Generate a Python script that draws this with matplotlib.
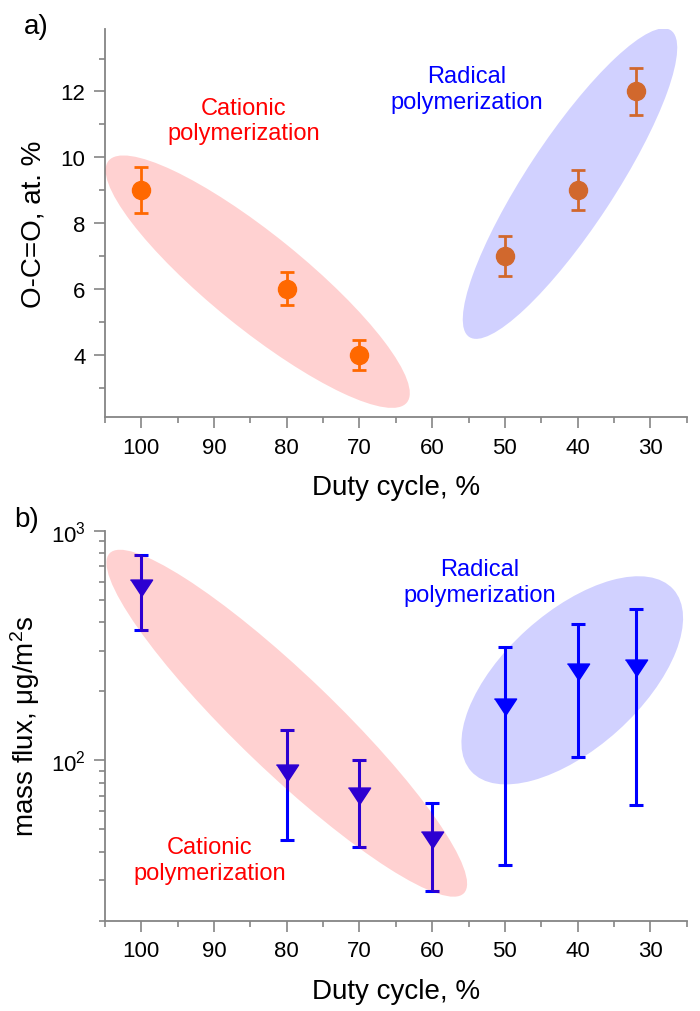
import matplotlib
matplotlib.use("Agg")
import matplotlib.pyplot as plt
from matplotlib.patches import Ellipse
from matplotlib.ticker import MultipleLocator
import matplotlib.transforms as mtransforms

plt.rcParams['font.family'] = ['Liberation Sans', 'DejaVu Sans']
plt.rcParams['mathtext.fontset'] = 'custom'
plt.rcParams['mathtext.rm'] = 'Liberation Sans'
plt.rcParams['mathtext.it'] = 'Liberation Sans:italic'
plt.rcParams['mathtext.default'] = 'regular'

# panel a) O-C=O content
duty_a = [100, 80, 70, 50, 40, 32]
occ = [9, 6, 4, 7, 9, 12]
occ_err = [0.7, 0.5, 0.45, 0.6, 0.6, 0.7]

# panel b) mass flux
duty_b = [100, 80, 70, 60, 50, 40, 32]
flux = [565, 88, 70, 45, 170, 243, 253]
flux_lo = [370, 45, 42, 27, 35, 103, 64]
flux_hi = [785, 136, 100, 65, 313, 392, 455]

grey = '#858585'
orange = '#FF8000'
blue = '#0000FF'
# flat down-pointing triangle (wider than tall)
tri_down = [(-1, 0.76), (1, 0.76), (0, -0.76)]


def style_axis(ax):
    for s in ['top', 'right']:
        ax.spines[s].set_visible(False)
    for s in ['left', 'bottom']:
        ax.spines[s].set_color(grey)
        ax.spines[s].set_linewidth(1.3)
    ax.tick_params(which='both', direction='out', color=grey, width=1.2,
                   labelsize=16, labelcolor='black')
    ax.tick_params(which='major', length=8, pad=6)
    ax.tick_params(which='minor', length=4)
    ax.set_xlim(105, 25)
    ax.set_xticks([100, 90, 80, 70, 60, 50, 40, 30])
    ax.xaxis.set_minor_locator(MultipleLocator(5))
    ax.set_xlabel('Duty cycle, %', fontsize=20, labelpad=12)


def blob(ax, xc, yc, w, h, ang, color):
    # ellipse sized in inches, centred on a data point
    tr = fig.dpi_scale_trans + mtransforms.ScaledTranslation(xc, yc, ax.transData)
    e = Ellipse((0, 0), w, h, angle=ang, transform=tr, facecolor=color,
                edgecolor='none', alpha=0.18, zorder=5)
    ax.add_patch(e)


fig = plt.figure(figsize=(7, 10.12), dpi=100)

ax1 = fig.add_axes([0.15, 0.5867, 0.831, 0.3837])
ax1.errorbar(duty_a, occ, yerr=occ_err, fmt='o', color=orange, ms=13,
             elinewidth=2, capsize=5, capthick=2, zorder=3)
style_axis(ax1)
ax1.set_ylim(2.1, 13.9)
ax1.set_yticks([4, 6, 8, 10, 12])
ax1.yaxis.set_minor_locator(MultipleLocator(1))
ax1.set_ylabel('O-C=O, at. %', fontsize=20, labelpad=10)
blob(ax1, 84, 6.22, 3.84, 0.94, -39, 'red')
blob(ax1, 41.05, 9.2, 3.67, 0.88, 56.7, 'blue')
ax1.text(85.9, 11.12, 'Cationic\npolymerization', color='red', fontsize=17,
         ha='center', va='center')
ax1.text(55.3, 12.07, 'Radical\npolymerization', color=blue, fontsize=17,
         ha='center', va='center')

ax2 = fig.add_axes([0.15, 0.0892, 0.831, 0.3854])
yerr = [[f - lo for f, lo in zip(flux, flux_lo)],
        [hi - f for f, hi in zip(flux, flux_hi)]]
ax2.errorbar(duty_b, flux, yerr=yerr, fmt='none', ecolor=blue,
             elinewidth=2.2, capsize=5, capthick=2.2, zorder=3)
ax2.plot(duty_b, flux, linestyle='none', marker=tri_down, ms=16,
         color=blue, zorder=4)
ax2.set_yscale('log')
style_axis(ax2)
ax2.set_ylim(20, 1000)
ax2.set_ylabel('mass flux, μg/m$^{2}$s', fontsize=20, labelpad=6)
blob(ax2, 80.0, 145, 4.91, 0.97, -43.8, 'red')
blob(ax2, 40.74, 223, 2.72, 1.36, 42, 'blue')
ax2.text(90.6, 36.8, 'Cationic\npolymerization', color='red', fontsize=17,
         ha='center', va='center')
ax2.text(53.47, 597, 'Radical\npolymerization', color=blue, fontsize=17,
         ha='center', va='center')

fig.text(0.052, 0.973, 'a)', fontsize=20, ha='center', va='center')
fig.text(0.038, 0.486, 'b)', fontsize=20, ha='center', va='center')

fig.savefig('out.png', dpi=100)
